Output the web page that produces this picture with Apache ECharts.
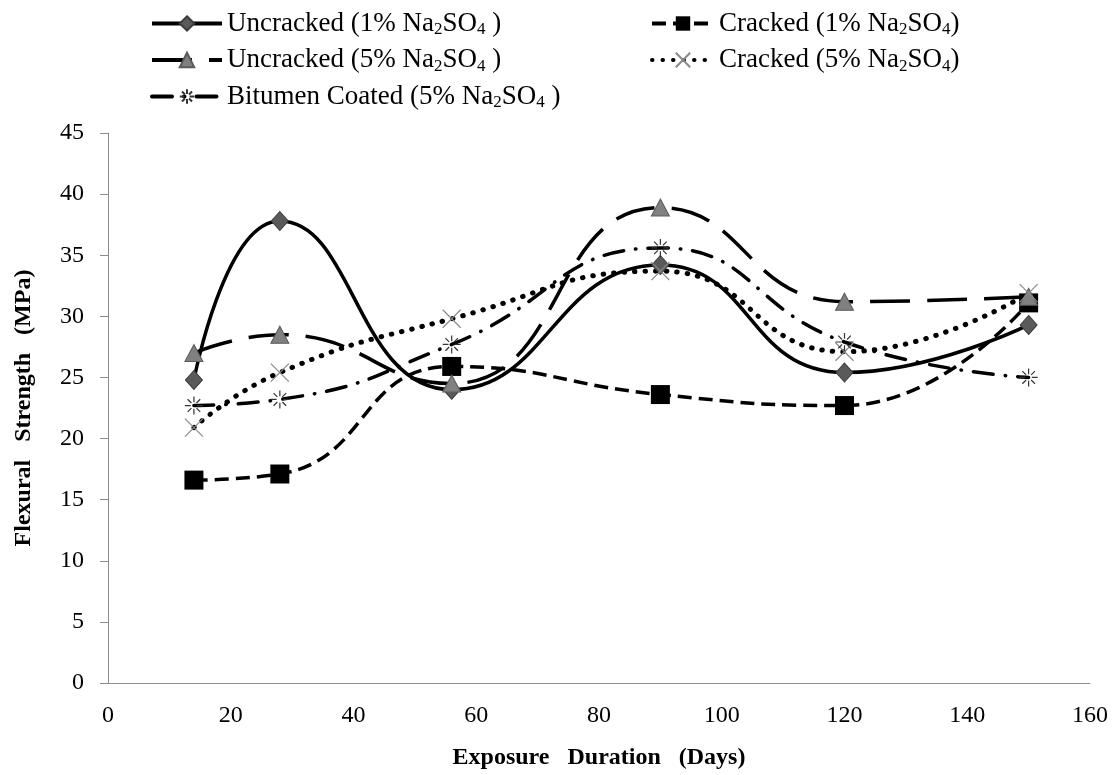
<!DOCTYPE html>
<html>
<head>
<meta charset="utf-8">
<script src="https://cdn.jsdelivr.net/npm/echarts@6/dist/echarts.min.js"></script>
<style>
  html, body { margin: 0; padding: 0; background: #fff; }
  #chart { width: 1116px; height: 775px; }
</style>
</head>
<body>
<div id="chart"></div>
<script>
// exposure durations (days)
const days = [14, 28, 56, 90, 120, 150];

// flexural strength (MPa)
const uncracked1 = [24.8, 37.8, 24.0, 34.2, 25.4, 29.3];
const cracked1 = [16.6, 17.1, 25.9, 23.6, 22.7, 31.1];
const uncracked5 = [27.0, 28.5, 24.5, 38.9, 31.2, 31.6];
const cracked5 = [20.9, 25.4, 29.8, 33.7, 27.1, 31.9];
const bitumen5 = [22.7, 23.2, 27.7, 35.6, 27.9, 25.0];

const names = [
  'Uncracked (1% Na2SO4 )',
  'Cracked (1% Na2SO4)',
  'Uncracked (5% Na2SO4 )',
  'Cracked (5% Na2SO4)',
  'Bitumen Coated (5% Na2SO4 )'
];

const xTicks = { min: 0, max: 160, step: 20 };
const yTicks = { min: 0, max: 45, step: 5 };

const pair = arr => days.map((d, i) => [d, arr[i]]);

const FONT = '"Liberation Serif", "Times New Roman", serif';
const crossPath = 'path://M0,0L10,10M10,0L0,10';
const starPath = 'path://M5,0L5,3.2M5,6.8L5,10M0,5L3.2,5M6.8,5L10,5M1.5,1.5L3.6,3.6M6.4,6.4L8.5,8.5M8.5,1.5L6.4,3.6M3.6,6.4L1.5,8.5';

const legendText = {
  fontFamily: FONT,
  fontSize: 27,
  color: '#000',
  rich: {
    t: { fontFamily: FONT, fontSize: 27, lineHeight: 30, color: '#000' },
    s: { fontFamily: FONT, fontSize: 17, lineHeight: 12, verticalAlign: 'bottom', color: '#000' }
  }
};
// Na2SO4 -> subscripted digits
const fmtName = n => {
  const m = n.match(/^(.*Na)2(SO)4( ?\))$/);
  return '{t|' + m[1] + '}{s|2}{t|' + m[2] + '}{s|4}{t|' + m[3] + '}';
};

const myChart = echarts.init(document.getElementById('chart'));
const legendBase = {
  orient: 'vertical',
  top: 5,
  itemHeight: 18,
  itemGap: 8,
  formatter: fmtName,
  textStyle: legendText,
  lineStyle: { width: 4 }
};
const option = {
  backgroundColor: '#fff',
  animation: false,
  legend: [
    Object.assign({}, legendBase, {
      data: [names[0], names[2], names[4]],
      left: 145,
      itemWidth: 70
    }),
    Object.assign({}, legendBase, {
      data: [names[1], names[3]],
      left: 645,
      itemWidth: 62
    })
  ],
  grid: { left: 108, right: 26, top: 133, bottom: 92 },
  xAxis: {
    type: 'value',
    min: xTicks.min,
    max: xTicks.max,
    interval: xTicks.step,
    name: 'Exposure   Duration   (Days)',
    nameLocation: 'middle',
    nameGap: 63,
    nameTextStyle: { fontFamily: FONT, fontSize: 24, fontWeight: 'bold', color: '#000' },
    axisLine: { lineStyle: { color: '#8c8c8c', width: 1 } },
    axisTick: { show: false },
    splitLine: { show: false },
    axisLabel: { fontFamily: FONT, fontSize: 24, color: '#000', margin: 21 }
  },
  yAxis: {
    type: 'value',
    min: yTicks.min,
    max: yTicks.max,
    interval: yTicks.step,
    name: 'Flexural   Strength   (MPa)',
    nameLocation: 'middle',
    nameGap: 72,
    nameTextStyle: { fontFamily: FONT, fontSize: 24, fontWeight: 'bold', color: '#000' },
    axisLine: { show: true, lineStyle: { color: '#8c8c8c', width: 1 } },
    axisTick: { show: true, length: 8, lineStyle: { color: '#8c8c8c' } },
    splitLine: { show: false },
    axisLabel: { fontFamily: FONT, fontSize: 24, color: '#000', margin: 24 }
  },
  series: [
    {
      name: names[0],
      type: 'line',
      smooth: 0.5,
      data: pair(uncracked1),
      symbol: 'diamond',
      symbolSize: [17, 19],
      lineStyle: { color: '#000', width: 3.5, type: 'solid' },
      itemStyle: { color: '#5a5a5a', borderColor: '#3c3c3c', borderWidth: 1 }
    },
    {
      name: names[1],
      type: 'line',
      smooth: 0.5,
      data: pair(cracked1),
      symbol: 'rect',
      symbolSize: 19,
      lineStyle: { color: '#000', width: 3.5, type: [14, 7] },
      itemStyle: { color: '#000', borderColor: '#000', borderWidth: 0 }
    },
    {
      name: names[2],
      type: 'line',
      smooth: 0.5,
      data: pair(uncracked5),
      symbol: 'triangle',
      symbolSize: [18, 17],
      lineStyle: { color: '#000', width: 3.5, type: [40, 17] },
      itemStyle: { color: '#808080', borderColor: '#5a5a5a', borderWidth: 1 }
    },
    {
      name: names[3],
      type: 'line',
      smooth: 0.5,
      data: pair(cracked5),
      symbol: crossPath,
      symbolSize: 18,
      lineStyle: { color: '#000', width: 5, type: [0.5, 10], cap: 'round' },
      itemStyle: { color: 'none', borderColor: '#8a8a8a', borderWidth: 1.2 }
    },
    {
      name: names[4],
      type: 'line',
      smooth: 0.5,
      data: pair(bitumen5),
      symbol: starPath,
      symbolSize: 18,
      lineStyle: { color: '#000', width: 3.5, type: [20, 12, 0.5, 12], cap: 'round' },
      itemStyle: { color: 'none', borderColor: '#333', borderWidth: 1.2 }
    }
  ]
};
myChart.setOption(option);
</script>
</body>
</html>
